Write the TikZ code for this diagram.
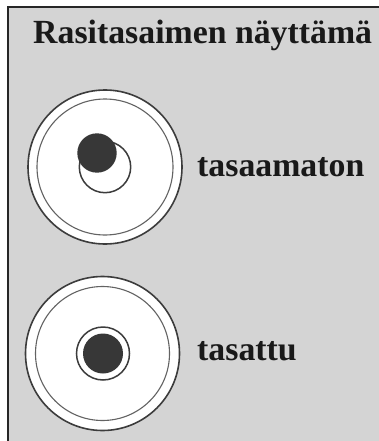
\documentclass[tikz,border=0pt]{standalone}
\usepackage{fontspec}
\setmainfont{Liberation Serif}
\definecolor{bggray}{RGB}{212,212,212}
\definecolor{dot}{RGB}{55,55,55}
\definecolor{ring}{RGB}{60,60,60}
\tikzset{
  lbl/.style={anchor=base west, inner sep=0pt, font=\fontsize{33.8}{36}\selectfont\bfseries, text=black!90},
  outerc/.style={draw=ring, line width=1.6pt, fill=white},
  innerc/.style={draw=ring!80, line width=1.1pt},
  smallc/.style={draw=ring, line width=1.5pt},
  filledc/.style={fill=dot}
}
\begin{document}
\begin{tikzpicture}[x=1pt,y=-1pt]
\useasboundingbox (0,0) rectangle (379,441);
\fill[white] (0,0) rectangle (379,441);
\fill[bggray] (8,7) rectangle (379,441);
\draw[line width=2pt, black!85] (379,7) -- (8,7) -- (8,441);
\node[lbl] (title) at (33,44) {Rasitasaimen näyttämä};
% top disc
\fill[outerc] (105,167) circle[radius=77pt];
\draw[innerc] (105,167) circle[radius=68pt];
\draw[smallc] (105,167) circle[radius=25.7pt];
\fill[filledc] (97,153) circle[radius=19.7pt];
\node[lbl] (unb) at (197,176) {tasaamaton};
% bottom disc
\fill[outerc] (102.5,353.5) circle[radius=77pt];
\draw[innerc] (102.5,353.5) circle[radius=67pt];
\draw[smallc] (103,353.5) circle[radius=26.5pt];
\fill[filledc] (103,353.5) circle[radius=20pt];
\node[lbl] (bal) at (197,360) {tasattu};
\end{tikzpicture}
\end{document}
